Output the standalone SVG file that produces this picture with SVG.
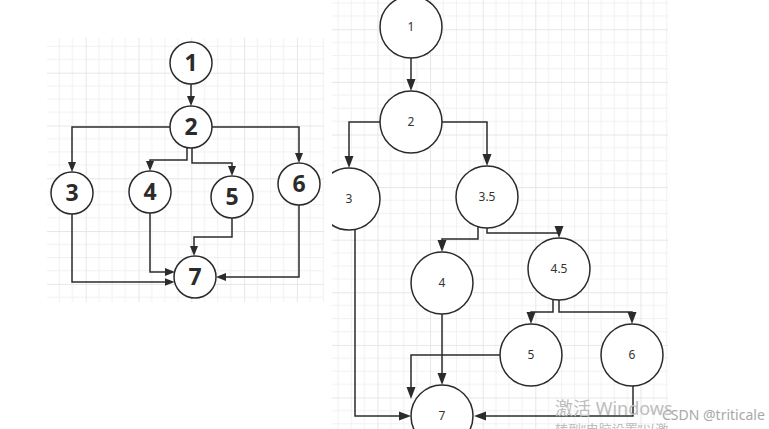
<svg xmlns="http://www.w3.org/2000/svg" width="769" height="429" viewBox="0 0 769 429">
  <style>
    .node { fill: #ffffff; stroke: #2b2b2b; stroke-width: 1.5; }
    .edge { fill: none; stroke: #2b2b2b; stroke-width: 1.5; }
    .edgeL { marker-end: url(#arrowL); }
    .edgeR { marker-end: url(#arrowR); }
    .lblL { font-family: "Noto Sans", "DejaVu Sans", sans-serif; font-weight: bold; font-size: 23px; fill: #2b2b2b; text-anchor: middle; }
    .lblR { font-family: "Noto Sans", "DejaVu Sans", sans-serif; font-size: 12px; fill: #333333; text-anchor: middle; }
    .wm { font-family: "Noto Sans", "Noto Sans CJK SC", sans-serif; fill: #bdbdbd; }
    .csdn { font-family: "Noto Sans", "Liberation Sans", sans-serif; font-size: 14px; fill: #a8a8a8; }
    .gmin { stroke: #f1f1f1; stroke-width: 1; fill: none; }
    .gmaj { stroke: #e6e6e6; stroke-width: 1; fill: none; }
  </style>
  <defs>
    <!-- grid tile: major line every 4 cells of ~13.2px -->
    <pattern id="gridL" patternUnits="userSpaceOnUse" x="32.9" y="19.9" width="52.8" height="52.8">
      <path class="gmin" d="M13.2,0V52.8M26.4,0V52.8M39.6,0V52.8M0,13.2H52.8M0,26.4H52.8M0,39.6H52.8"/>
      <path class="gmaj" d="M0.5,0V52.8M0,0.5H52.8"/>
    </pattern>
    <pattern id="gridR" patternUnits="userSpaceOnUse" x="324.9" y="-23.3" width="52.6" height="52.6">
      <path class="gmin" d="M13.15,0V52.6M26.3,0V52.6M39.45,0V52.6M0,13.15H52.6M0,26.3H52.6M0,39.45H52.6"/>
      <path class="gmaj" d="M0.5,0V52.6M0,0.5H52.6"/>
    </pattern>
    <marker id="arrowL" markerUnits="userSpaceOnUse" markerWidth="10" markerHeight="8" refX="7" refY="4" orient="auto">
      <path d="M0,0 L10,4 L0,8 z" fill="#2b2b2b"/>
    </marker>
    <marker id="arrowR" markerUnits="userSpaceOnUse" markerWidth="12" markerHeight="10" refX="9" refY="5" orient="auto">
      <path d="M0,0.5 L12,5 L0,9.5 z" fill="#2b2b2b"/>
    </marker>
    <clipPath id="clipR">
      <rect x="332" y="0" width="437" height="429"/>
    </clipPath>
  </defs>

  <rect x="0" y="0" width="769" height="429" fill="#ffffff"/>

  <!-- left graph -->
  <g id="left-graph">
    <rect x="47" y="38" width="277" height="264" fill="url(#gridL)"/>
    <g id="left-edges">
      <path class="edge edgeL" d="M191,84 L191,103"/>
      <path class="edge edgeL" d="M170,127 L72,127 L72,169"/>
      <path class="edge edgeL" d="M212,127 L299,127 L299,160"/>
      <path class="edge edgeL" d="M187,148 L187,160 L150,160 L150,168"/>
      <path class="edge edgeL" d="M192,148 L192,163 L232,163 L232,173"/>
      <path class="edge edgeL" d="M72,214 L72,282 L171.6,282"/>
      <path class="edge edgeL" d="M150,213 L150,272 L172,272"/>
      <path class="edge edgeL" d="M232,218 L232,237 L194,237 L194,253"/>
      <path class="edge edgeL" d="M299,205 L299,277 L219,277"/>
    </g>
    <g id="L1"><circle class="node" cx="191" cy="63" r="21"/><text class="lblL" x="191" y="71.3">1</text></g>
    <g id="L2"><circle class="node" cx="191" cy="127" r="21"/><text class="lblL" x="191" y="135.3">2</text></g>
    <g id="L3"><circle class="node" cx="72" cy="193" r="21"/><text class="lblL" x="72" y="201.3">3</text></g>
    <g id="L4"><circle class="node" cx="150" cy="192" r="21"/><text class="lblL" x="150" y="200.3">4</text></g>
    <g id="L5"><circle class="node" cx="232" cy="197" r="21"/><text class="lblL" x="232" y="205.3">5</text></g>
    <g id="L6"><circle class="node" cx="299" cy="184" r="21"/><text class="lblL" x="299" y="192.3">6</text></g>
    <g id="L7"><circle class="node" cx="195" cy="277" r="21"/><text class="lblL" x="195" y="285.3">7</text></g>
  </g>

  <!-- right graph -->
  <g id="right-graph" clip-path="url(#clipR)">
    <rect x="332" y="0" width="336" height="429" fill="url(#gridR)"/>
    <g id="right-edges">
      <path class="edge edgeR" d="M411,58 L411,88"/>
      <path class="edge edgeR" d="M380,122 L349,122 L349,165"/>
      <path class="edge edgeR" d="M442,122 L487,122 L487,163"/>
      <path class="edge edgeR" d="M478,227 L478,239 L442,239 L442,249"/>
      <path class="edge edgeR" d="M487,228 L487,233 L559,233 L559,235"/>
      <path class="edge edgeR" d="M553,300 L553,312 L531,312 L531,321"/>
      <path class="edge edgeR" d="M559,300 L559,312 L632,312 L632,321"/>
      <path class="edge edgeR" d="M442,314 L442,382"/>
      <path class="edge edgeR" d="M500,355 L411,355 L411,396"/>
      <path class="edge edgeR" d="M355,229 L355,416 L408,416"/>
      <path class="edge edgeR" d="M633,386 L633,416 L477,416"/>
    </g>
    <g id="R1"><circle class="node" cx="411" cy="27" r="31"/><text class="lblR" x="411" y="31.3">1</text></g>
    <g id="R2"><circle class="node" cx="411" cy="122" r="31"/><text class="lblR" x="411" y="126.3">2</text></g>
    <g id="R3"><circle class="node" cx="349" cy="199" r="31"/><text class="lblR" x="349" y="203.3">3</text></g>
    <g id="R35"><circle class="node" cx="487" cy="197" r="31"/><text class="lblR" x="487" y="201.3">3.5</text></g>
    <g id="R4"><circle class="node" cx="442" cy="283" r="31"/><text class="lblR" x="442" y="287.3">4</text></g>
    <g id="R45"><circle class="node" cx="559" cy="269" r="31"/><text class="lblR" x="559" y="273.3">4.5</text></g>
    <g id="R5"><circle class="node" cx="531" cy="355" r="31"/><text class="lblR" x="531" y="359.3">5</text></g>
    <g id="R6"><circle class="node" cx="632" cy="355" r="31"/><text class="lblR" x="632" y="359.3">6</text></g>
    <g id="R7"><circle class="node" cx="442" cy="416" r="31"/><text class="lblR" x="442" y="420.3">7</text></g>
  </g>

  <!-- overlay texts -->
  <text class="wm" x="555" y="415" font-size="18">激活 Windows</text>
  <text class="wm" x="555" y="434" font-size="13">转到“电脑设置”以激</text>
  <text class="csdn" x="662" y="420">CSDN @triticale</text>
</svg>
